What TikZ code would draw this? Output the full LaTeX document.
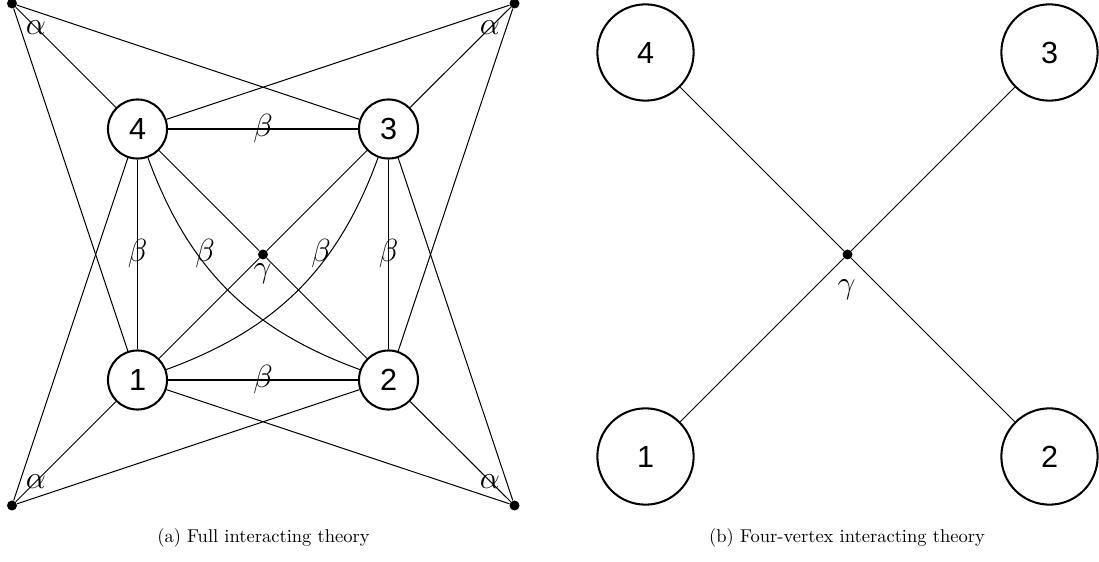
\documentclass[tikz,border=0pt]{standalone}
\usepackage{fontspec}
\newfontfamily\digitfont{Liberation Sans}
\tikzset{
  vtx/.style={circle, draw, line width=1.1pt, minimum size=31.9pt, inner sep=0pt,
    font=\digitfont\fontsize{16.5}{18}\selectfont},
  bigvtx/.style={vtx, minimum size=52pt},
  dotv/.style={circle, fill, inner sep=0pt, minimum size=5.4pt},
  edge/.style={line width=0.55pt},
  lbl/.style={inner sep=0pt, font=\fontsize{17.28}{20}\selectfont},
  captxt/.style={inner sep=0pt, font=\fontsize{10}{12}\selectfont}
}
\begin{document}
\begin{tikzpicture}[x=0.54pt, y=-0.54pt]
\useasboundingbox (0,0) rectangle (1099,562);
% ---------- panel (a) ----------
\node[vtx] (n4) at (137.5,129) {4};
\node[vtx] (n3) at (388.5,129) {3};
\node[vtx] (n1) at (137.5,380) {1};
\node[vtx] (n2) at (388.5,380) {2};
\node[dotv] (a4) at (12,3.5) {};
\node[dotv] (a3) at (514.5,3.5) {};
\node[dotv] (a1) at (12,505.5) {};
\node[dotv] (a2) at (514.5,505.5) {};
\node[dotv] (g) at (263,254.5) {};
\begin{scope}[edge]
\draw (a4) -- (n4); \draw (a4) -- (n1); \draw (a4) -- (n3);
\draw (a3) -- (n3); \draw (a3) -- (n4); \draw (a3) -- (n2);
\draw (a1) -- (n1); \draw (a1) -- (n4); \draw (a1) -- (n2);
\draw (a2) -- (n2); \draw (a2) -- (n1); \draw (a2) -- (n3);
\draw (n4) -- (n3); \draw (n1) -- (n2);
\draw (n4) -- (n1); \draw (n3) -- (n2);
\draw (n4) -- (g) -- (n2);
\draw (n3) -- (g) -- (n1);
\draw (n4) to[bend right=25] (n2);
\draw (n3) to[bend left=25] (n1);
\end{scope}
\node[lbl] (la4) at (36,27.5) {$\alpha$};
\node[lbl] (la3) at (490,27.5) {$\alpha$};
\node[lbl] (la1) at (36,481.5) {$\alpha$};
\node[lbl] (la2) at (490,481.5) {$\alpha$};
\node[lbl] (b43) at (263,129) {$\beta$};
\node[lbl] (b12) at (263,380) {$\beta$};
\node[lbl] (b41) at (137.5,254) {$\beta$};
\node[lbl] (b32) at (388.5,254) {$\beta$};
\node[lbl] (b42) at (205,254) {$\beta$};
\node[lbl] (b31) at (321,254) {$\beta$};
\node[lbl] (lg) at (262.5,274) {$\gamma$};
\node[captxt] (capa) at (263.5,538) {(a) Full interacting theory};
% ---------- panel (b) ----------
\node[bigvtx] (m4) at (645.5,52.5) {4};
\node[bigvtx] (m3) at (1049.5,52.5) {3};
\node[bigvtx] (m1) at (645.5,456.5) {1};
\node[bigvtx] (m2) at (1049.5,456.5) {2};
\node[dotv] (g2) at (847.5,254.5) {};
\begin{scope}[edge]
\draw (m4) -- (g2) -- (m2);
\draw (m3) -- (g2) -- (m1);
\end{scope}
\node[lbl] (lg2) at (846.5,290) {$\gamma$};
\node[captxt] (capb) at (847,538) {(b) Four-vertex interacting theory};
\end{tikzpicture}
\end{document}
